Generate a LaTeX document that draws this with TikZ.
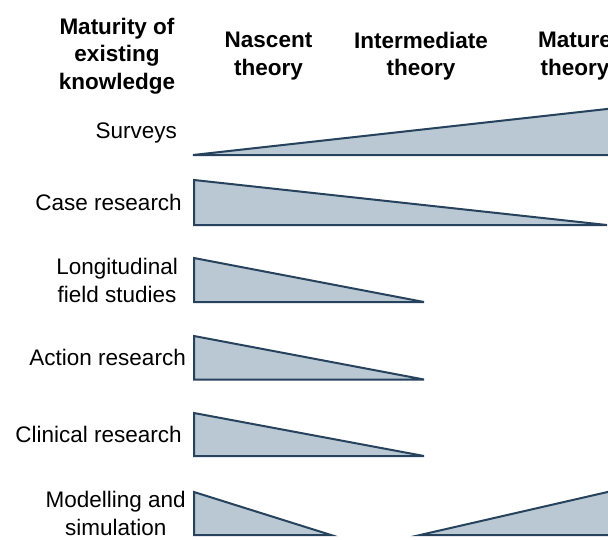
\documentclass[tikz,border=0pt]{standalone}
\usepackage{fontspec}
\setmainfont{Liberation Sans}
\definecolor{wedgeline}{RGB}{38,66,92}
\definecolor{wedgefill}{RGB}{186,200,212}
\tikzset{
  wedge/.style={draw=wedgeline,fill=wedgefill,line width=2pt},
  rowlabel/.style={anchor=east,align=center,inner sep=0pt,font=\fontsize{22.5}{28}\selectfont},
  colhead/.style={align=center,inner sep=0pt,font=\fontsize{22.5}{27.5}\selectfont\bfseries}
}
\begin{document}
\begin{tikzpicture}[x=1pt,y=-1pt]
  \useasboundingbox (0,0) rectangle (608,539);
  \clip (0,0) rectangle (608,539);
  \node [colhead] (knowledge) at (117,56) {Maturity of\\existing\\knowledge};
  \node [colhead] (nascent) at (268.5,56) {Nascent\\theory};
  \node [colhead] (intermediate) at (421,56) {Intermediate\\theory};
  \node [colhead] (mature) at (575,56) {Mature\\theory};
  \node [rowlabel] (surveys) at (177,133) {Surveys};
  \node [rowlabel] (case) at (182,202.5) {Case research};
  \node [rowlabel] (longitudinal) at (178,280) {Longitudinal\\field studies};
  \node [rowlabel] (action) at (186,357.5) {Action research};
  \node [rowlabel] (clinical) at (182,434.5) {Clinical research};
  \node [rowlabel] (modelling) at (186,513.5) {Modelling and\\simulation};
  \draw [wedge] (193,155) -- (625,155) -- (625,107) -- cycle;
  \draw [wedge] (194,180) -- (194,225) -- (607,225) -- cycle;
  \draw [wedge] (194,258) -- (194,302) -- (424,302) -- cycle;
  \draw [wedge] (194,336) -- (194,379.5) -- (424,379.5) -- cycle;
  \draw [wedge] (194,413) -- (194,456) -- (424,456) -- cycle;
  \draw [wedge] (194,492) -- (194,535) -- (331,535) -- cycle;
  \draw [wedge] (420,535) -- (625,535) -- (625,488) -- cycle;
\end{tikzpicture}
\end{document}
